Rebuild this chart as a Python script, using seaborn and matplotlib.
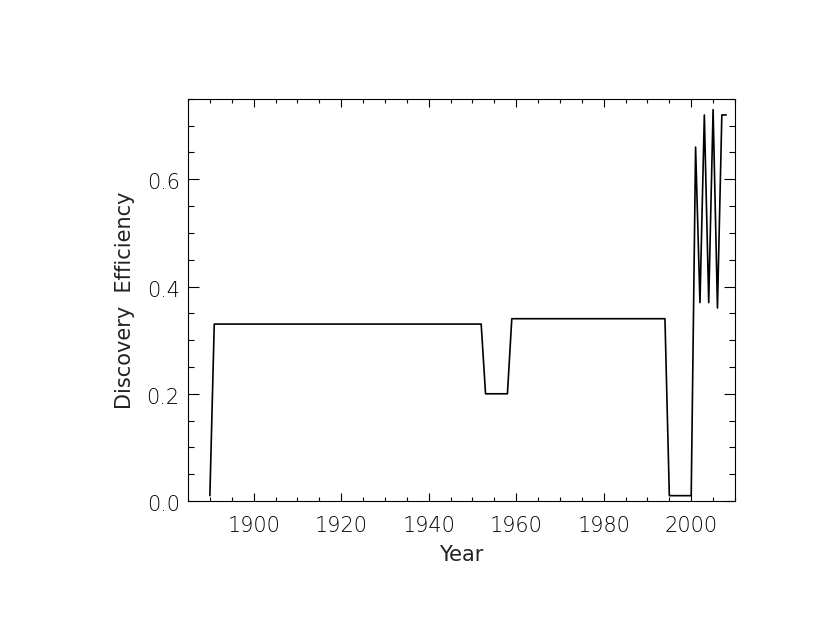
import matplotlib
matplotlib.use('Agg')
import matplotlib.pyplot as plt
import matplotlib.transforms as mtransforms
import seaborn as sns
from matplotlib.ticker import MultipleLocator, FormatStrFormatter

# values
years = [1890, 1891, 1952, 1953, 1958, 1959, 1994, 1995, 2000,
         2001, 2002, 2003, 2004, 2005, 2006, 2007, 2008]
efficiency = [0.01, 0.33, 0.33, 0.20, 0.20, 0.34, 0.34, 0.01, 0.01,
              0.66, 0.37, 0.72, 0.37, 0.73, 0.36, 0.72, 0.72]

sns.set_style('ticks')
plt.rcParams['font.family'] = ['DejaVu Sans']
plt.rcParams['font.weight'] = 'light'

fig = plt.figure(figsize=(8.3, 6.42), dpi=100)
ax = fig.add_axes([0.2265, 0.2196, 0.659, 0.6264])

sns.lineplot(x=years, y=efficiency, color='black', linewidth=1.2,
             estimator=None, ax=ax)

ax.set_xlim(1885, 2010)
ax.set_ylim(0, 0.75)
ax.xaxis.set_major_locator(MultipleLocator(20))
ax.xaxis.set_minor_locator(MultipleLocator(5))
ax.yaxis.set_major_locator(MultipleLocator(0.2))
ax.yaxis.set_minor_locator(MultipleLocator(0.05))
ax.yaxis.set_major_formatter(FormatStrFormatter('%.1f'))

ax.tick_params(axis='both', which='both', direction='in', top=True, right=True,
               labelsize=15, width=0.8, colors='black')
ax.tick_params(axis='x', which='major', length=5.8, pad=11)
ax.tick_params(axis='x', which='minor', length=2.9)
ax.tick_params(axis='y', which='major', length=7.9, pad=6)
ax.tick_params(axis='y', which='minor', length=4)
for s in ax.spines.values():
    s.set_linewidth(0.8)
    s.set_color('black')

# y tick labels sit a hair below their ticks in the original
shift = mtransforms.ScaledTranslation(0, -2 / 100, fig.dpi_scale_trans)
for lab in ax.get_yticklabels():
    lab.set_transform(lab.get_transform() + shift)

ax.set_xlabel('Year', fontsize=15, labelpad=6, color='#222222')
ax.set_ylabel('Discovery  Efficiency', fontsize=15, labelpad=8, color='#222222')

fig.savefig('out.png', dpi=100)
